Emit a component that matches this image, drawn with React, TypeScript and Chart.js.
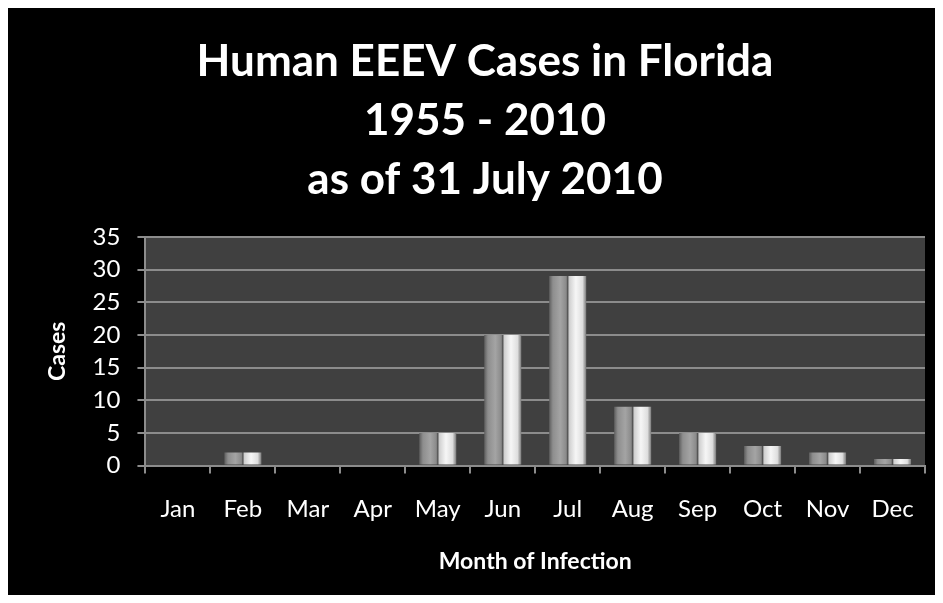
import React, { useEffect, useRef } from "react";
import { Chart, registerables } from "chart.js";

Chart.register(...registerables);

const months = ["Jan", "Feb", "Mar", "Apr", "May", "Jun", "Jul", "Aug", "Sep", "Oct", "Nov", "Dec"];
const cases = [0, 2, 0, 0, 5, 20, 29, 9, 5, 3, 2, 1];
const titleLines = ["Human EEEV Cases in Florida", "1955 - 2010", "as of 31 July 2010"];
const xTitle = "Month of Infection";
const yTitle = "Cases";

const FONT = "Lato, 'Open Sans', sans-serif";
const CAT_PCT = 0.57;

const plotBg = {
  id: "plotBg",
  beforeDraw(chart: any) {
    const { ctx, chartArea } = chart;
    ctx.save();
    ctx.fillStyle = "#000";
    ctx.fillRect(0, 0, chart.width, chart.height);
    ctx.fillStyle = "#404040";
    ctx.fillRect(chartArea.left, chartArea.top, chartArea.right - chartArea.left, chartArea.bottom - chartArea.top);
    ctx.restore();
  },
};

export default function App() {
  const ref = useRef<HTMLCanvasElement>(null);
  useEffect(() => {
    const canvas = ref.current!;
    const chart = new Chart(canvas, {
      type: "bar",
      data: {
        labels: months,
        datasets: [
          {
            data: cases,
            categoryPercentage: CAT_PCT,
            barPercentage: 1,
            borderWidth: 0,
            backgroundColor: (c: any) => {
              const ch = c.chart;
              const xs = ch.scales?.x;
              if (!xs || typeof c.dataIndex !== "number") return "#bbbbbb";
              const cx = xs.getPixelForValue(c.dataIndex);
              const w = (xs.width / months.length) * CAT_PCT;
              if (!isFinite(cx) || !isFinite(w) || w <= 0) return "#bbbbbb";
              const g = ch.ctx.createLinearGradient(cx - w / 2, 0, cx + w / 2, 0);
              g.addColorStop(0, "#5e5e5e");
              g.addColorStop(0.1, "#8e8e8e");
              g.addColorStop(0.3, "#a4a4a4");
              g.addColorStop(0.46, "#8a8a8a");
              g.addColorStop(0.5, "#505050");
              g.addColorStop(0.54, "#cfcfcf");
              g.addColorStop(0.72, "#f6f6f6");
              g.addColorStop(0.9, "#dedede");
              g.addColorStop(1, "#7a7a7a");
              return g;
            },
          },
        ],
      },
      options: {
        responsive: false,
        animation: false,
        layout: { padding: { left: 36, right: 9, top: 24, bottom: 20 } },
        plugins: {
          legend: { display: false },
          tooltip: { enabled: false },
          title: {
            display: true,
            text: titleLines,
            color: "#fff",
            font: { family: FONT, size: 44, weight: "bold", lineHeight: 1.34 },
            padding: { top: 0, bottom: 28 },
          },
        },
        scales: {
          x: {
            grid: {
              offset: true,
              drawOnChartArea: false,
              drawTicks: true,
              tickLength: 8,
              color: "#8c8c8c",
              lineWidth: 2,
            },
            border: { color: "#8c8c8c", width: 2 },
            ticks: { color: "#fff", font: { family: FONT, size: 24 }, padding: 21, autoSkip: false, maxRotation: 0 },
            title: {
              display: true,
              text: xTitle,
              color: "#fff",
              font: { family: FONT, size: 23, weight: "bold" },
              padding: { top: 3, bottom: 0 },
            },
          },
          y: {
            min: 0,
            max: 35,
            ticks: { stepSize: 5, color: "#fff", font: { family: FONT, size: 24 }, padding: 17, autoSkip: false },
            grid: { color: "#8c8c8c", lineWidth: 2, tickLength: 8 },
            border: { color: "#8c8c8c", width: 2 },
            title: {
              display: true,
              text: yTitle,
              color: "#fff",
              font: { family: FONT, size: 23, weight: "bold" },
              padding: { top: 0, bottom: 4 },
            },
          },
        },
      },
      plugins: [plotBg],
    } as any);
    return () => chart.destroy();
  }, []);
  return (
    <div style={{ width: 927, height: 587 }}>
      <canvas ref={ref} width={927} height={587} style={{ display: "block" }} />
    </div>
  );
}
